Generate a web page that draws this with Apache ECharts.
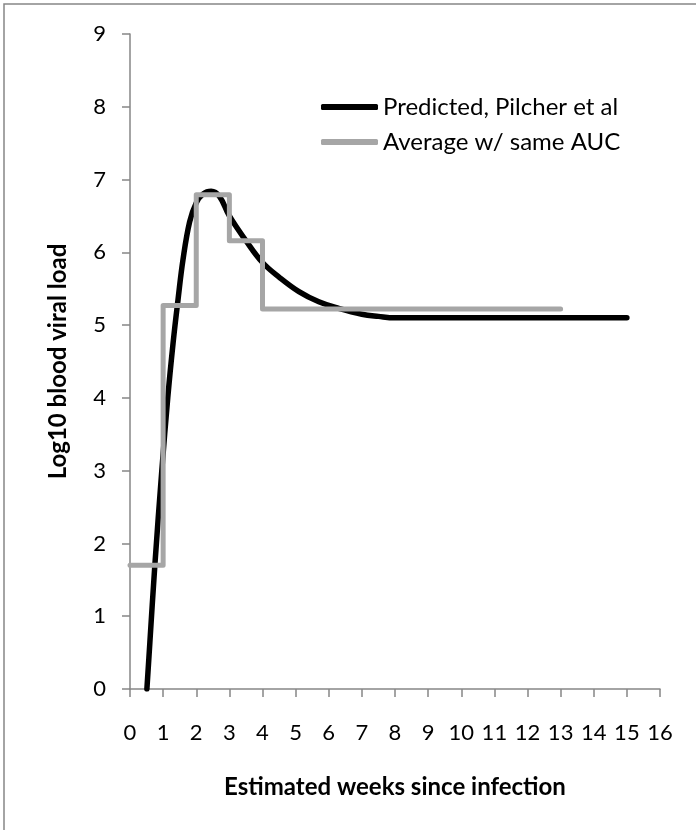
<!DOCTYPE html>
<html>
<head>
<meta charset="utf-8">
<script src="https://cdn.jsdelivr.net/npm/echarts@6/dist/echarts.min.js"></script>
<style>
html,body{margin:0;padding:0;background:#fff;}
#chart{width:696px;height:830px;}
</style>
</head>
<body>
<div id="chart"></div>
<script>
// Predicted curve (Pilcher et al)
const predWeeks = [0.51, 0.6, 0.75, 0.96, 1.14, 1.3, 1.45, 1.6, 1.8, 2.0, 2.2, 2.45, 2.7, 3.0, 3.5, 4.0, 4.5, 5.1, 5.7, 6.3, 7.0, 7.5, 8.0, 9, 10, 11, 12, 13, 14, 15];
const predLoad  = [0, 0.64, 1.7, 3.0, 4.0, 4.75, 5.35, 5.9, 6.42, 6.68, 6.8, 6.84, 6.77, 6.5, 6.16, 5.86, 5.66, 5.46, 5.32, 5.23, 5.15, 5.12, 5.1, 5.1, 5.1, 5.1, 5.1, 5.1, 5.1, 5.1];
// Step average with same AUC
const avgWeeks = [0, 1, 2, 3, 4, 13];
const avgLoad  = [1.7, 5.27, 6.79, 6.16, 5.22, 5.22];
const seriesNames = ['Predicted, Pilcher et al', 'Average w/ same AUC'];
const xTitle = 'Estimated weeks since infection';
const yTitle = 'Log10 blood viral load';

const FONT = 'Lato, "Open Sans", "DejaVu Sans", sans-serif';
const chart = echarts.init(document.getElementById('chart'), null, {renderer: 'canvas'});
const axisGrey = '#868686';

chart.setOption({
  animation: false,
  backgroundColor: '#ffffff',
  textStyle: {fontFamily: FONT},
  graphic: [{
    type: 'rect',
    shape: {x: 4, y: 4, width: 760, height: 900},
    style: {fill: 'none', stroke: axisGrey, lineWidth: 1.5},
    silent: true
  }],
  grid: {left: 130, right: 36, top: 34, bottom: 141},
  legend: {
    orient: 'vertical',
    left: 316,
    top: 89,
    itemWidth: 57,
    itemHeight: 6,
    itemGap: 9,
    icon: 'roundRect',
    textStyle: {fontFamily: FONT, fontSize: 24, color: '#000', lineHeight: 26},
    data: seriesNames
  },
  xAxis: {
    type: 'value',
    min: 0, max: 16, interval: 1,
    name: xTitle,
    nameLocation: 'middle',
    nameGap: 86,
    nameTextStyle: {fontFamily: FONT, fontSize: 24, fontWeight: 'bold', color: '#000'},
    axisLine: {show: true, lineStyle: {color: axisGrey, width: 1.5}},
    axisTick: {show: true, inside: false, length: 8, lineStyle: {color: axisGrey, width: 1.5}},
    axisLabel: {fontFamily: FONT, fontSize: 22, color: '#000', margin: 33},
    splitLine: {show: false}
  },
  yAxis: {
    type: 'value',
    min: 0, max: 9, interval: 1,
    name: yTitle,
    nameLocation: 'middle',
    nameGap: 60,
    nameRotate: 90,
    nameTextStyle: {fontFamily: FONT, fontSize: 24, fontWeight: 'bold', color: '#000'},
    axisLine: {show: true, lineStyle: {color: axisGrey, width: 1.5}},
    axisTick: {show: true, inside: false, length: 8, lineStyle: {color: axisGrey, width: 1.5}},
    axisLabel: {fontFamily: FONT, fontSize: 22, color: '#000', margin: 24},
    splitLine: {show: false}
  },
  series: [
    {
      name: seriesNames[0],
      type: 'line',
      data: predWeeks.map((w, i) => [w, predLoad[i]]),
      symbol: 'none',
      smooth: 0.4,
      color: '#000000',
      lineStyle: {color: '#000000', width: 5.5, cap: 'round', join: 'round'},
      z: 2
    },
    {
      name: seriesNames[1],
      type: 'line',
      data: avgWeeks.map((w, i) => [w, avgLoad[i]]),
      step: 'end',
      symbol: 'none',
      color: '#A6A6A6',
      lineStyle: {color: '#A6A6A6', width: 5, cap: 'round', join: 'round'},
      z: 3
    }
  ]
});
</script>
</body>
</html>
